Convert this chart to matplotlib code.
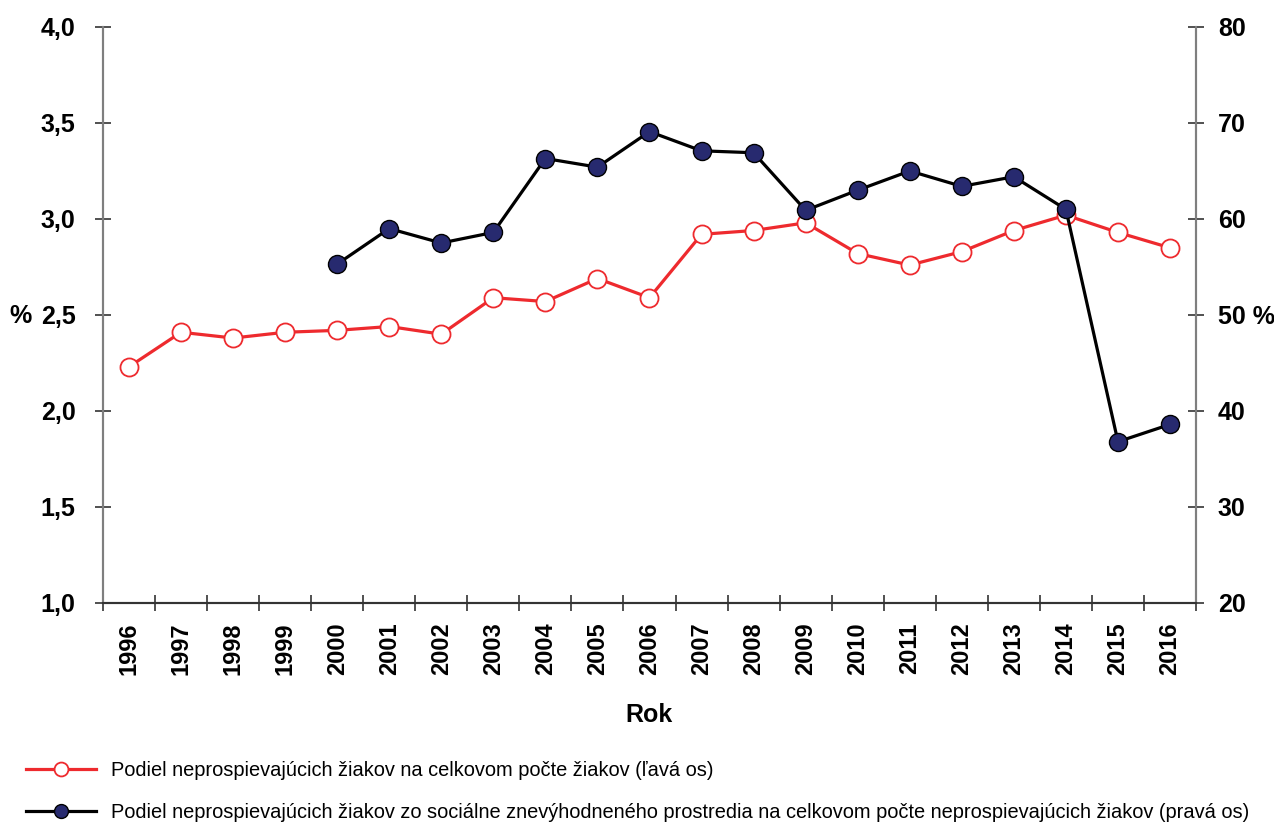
import numpy as np
import matplotlib
matplotlib.use("Agg")
import matplotlib.pyplot as plt
from matplotlib.lines import Line2D

plt.rcParams['font.family'] = ['Liberation Sans Narrow', 'Liberation Sans', 'DejaVu Sans']

roky = [str(r) for r in range(1996, 2017)]
podiel_vsetci = [2.23, 2.41, 2.38, 2.41, 2.42, 2.44, 2.40, 2.59, 2.57, 2.69, 2.59,
                 2.92, 2.94, 2.98, 2.82, 2.76, 2.83, 2.94, 3.02, 2.93, 2.85]
roky_szp = [str(r) for r in range(2000, 2017)]
podiel_szp = [55.3, 59.0, 57.5, 58.6, 66.3, 65.4, 69.1, 67.1, 66.9, 60.9,
              63.0, 65.0, 63.4, 64.4, 61.0, 36.8, 38.6]

lave_ticky = [1.0, 1.5, 2.0, 2.5, 3.0, 3.5, 4.0]
lave_popisy = ["1,0", "1,5", "2,0", "2,5", "3,0", "3,5", "4,0"]
prave_ticky = [20, 30, 40, 50, 60, 70, 80]
prave_popisy = ["20", "30", "40", "50 %", "60", "70", "80"]

CERVENA = '#ee2a2e'
MODRA = '#272a6f'
SEDA = '#7f7f7f'

fig = plt.figure(figsize=(12.74, 8.25), dpi=100)
ax = fig.add_axes([0.0808, 0.2691, 0.8580, 0.6982])
ax2 = ax.twinx()

x = np.arange(len(roky))
x_szp = np.array([roky.index(r) for r in roky_szp])

ax.plot(x, podiel_vsetci, color=CERVENA, linewidth=2.3, marker='o', markersize=13,
        markerfacecolor='white', markeredgecolor=CERVENA, markeredgewidth=1.3, zorder=3)
ax2.plot(x_szp, podiel_szp, color='black', linewidth=2.3, marker='o', markersize=13,
         markerfacecolor=MODRA, markeredgecolor='black', markeredgewidth=1.0, zorder=3)

ax.set_xlim(-0.5, len(roky) - 0.5)
ax.set_ylim(1.0, 4.0)
ax2.set_ylim(20, 80)

# x osi: ticky medzi kategoriami, popisy v strede
ax.set_xticks(np.arange(len(roky) + 1) - 0.5)
ax.set_xticklabels([])
ax.set_xticks(x, minor=True)
ax.set_xticklabels(roky, minor=True, rotation=90, fontsize=17, fontweight='bold')
ax.tick_params(axis='x', which='major', direction='inout', length=11.5, width=1.2, color='#333333')
ax.tick_params(axis='x', which='minor', length=0, pad=14)

ax.set_yticks(lave_ticky)
ax.set_yticklabels(lave_popisy, fontsize=18, fontweight='bold')
ax.tick_params(axis='y', direction='inout', length=11.5, width=1.2, color='#333333', pad=14)

ax2.set_yticks(prave_ticky)
ax2.set_yticklabels(prave_popisy, fontsize=18, fontweight='bold')
ax2.tick_params(axis='y', direction='inout', length=11.5, width=1.2, color='#333333', pad=10)

for a in (ax, ax2):
    a.spines['top'].set_visible(False)
    a.spines['left'].set_color(SEDA)
    a.spines['right'].set_color(SEDA)
    a.spines['bottom'].set_color('#333333')
    a.spines['left'].set_linewidth(1.5)
    a.spines['right'].set_linewidth(1.5)
    a.spines['bottom'].set_linewidth(1.5)

ax.set_xlabel('Rok', fontsize=18, fontweight='bold', labelpad=20)
fig.text(20 / 1274, 1 - 316 / 825, '%', fontsize=18, fontweight='bold',
         ha='center', va='center')

handles = [
    Line2D([], [], color=CERVENA, linewidth=2.3, marker='o', markersize=10,
           markerfacecolor='white', markeredgecolor=CERVENA, markeredgewidth=1.3),
    Line2D([], [], color='black', linewidth=2.3, marker='o', markersize=10,
           markerfacecolor=MODRA, markeredgecolor='black', markeredgewidth=1.0),
]
labels = [
    'Podiel neprospievajúcich žiakov na celkovom počte žiakov (ľavá os)',
    'Podiel neprospievajúcich žiakov zo sociálne znevýhodneného prostredia na celkovom počte neprospievajúcich žiakov (pravá os)',
]
fig.legend(handles, labels, loc='lower left', bbox_to_anchor=(0.006, -0.018), frameon=False,
           fontsize=14.4, handlelength=3.5, handletextpad=0.75, labelspacing=1.15)

fig.savefig('out.png', dpi=100)
